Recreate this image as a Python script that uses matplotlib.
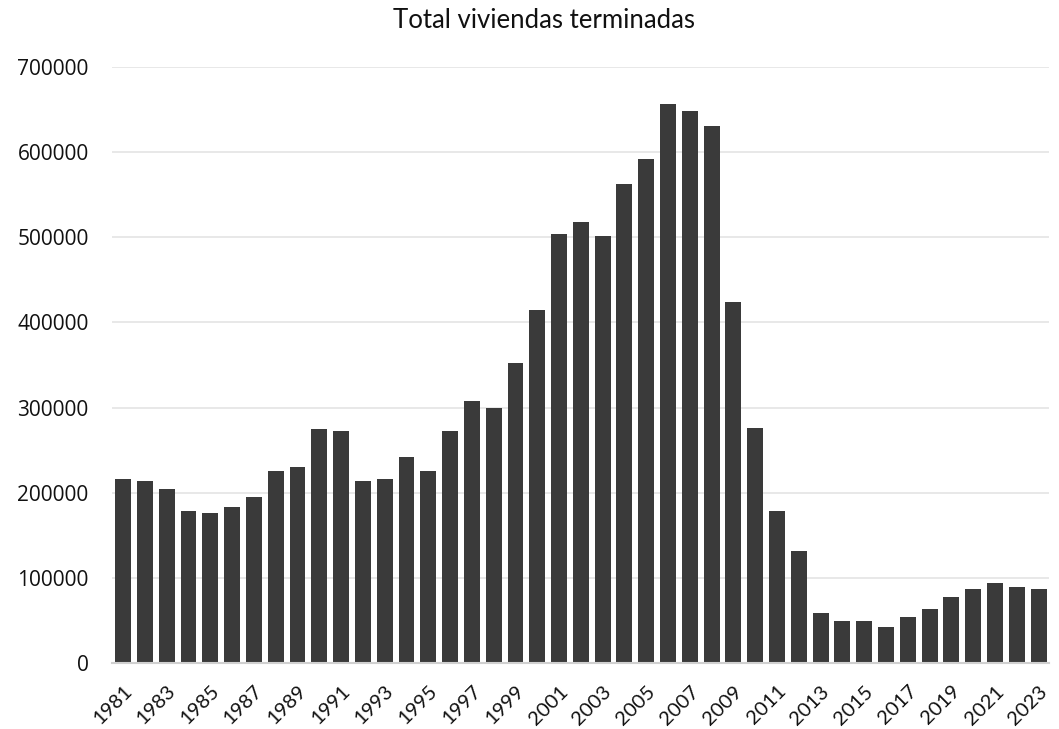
import matplotlib.pyplot as plt
import numpy as np

years = list(range(1981, 2024))
viviendas = [
    216000, 213500, 204000, 178500, 176000, 183000, 195000, 225500, 230000,
    274500, 272500, 213500, 216000, 241500, 225500, 272500, 307500, 300000,
    352000, 415000, 504500, 518500, 502000, 563000, 591500, 657000, 648000,
    631000, 424500, 276500, 178500, 131500, 59000, 49500, 49500, 42000,
    54000, 63500, 77500, 86500, 94000, 89000, 86500,
]
y_ticks = [0, 100000, 200000, 300000, 400000, 500000, 600000, 700000]

fig = plt.figure(figsize=(10.59, 7.29), dpi=100)
ax = fig.add_axes([0.106, 0.0905, 0.885, 0.8175])

x = np.arange(len(years))
ax.bar(x, viviendas, width=0.73, color='#3a3a3a', zorder=3)

ax.set_xlim(-0.5, len(years) - 0.5)
ax.set_ylim(0, 700000)
ax.set_yticks(y_ticks)
ax.set_yticklabels([str(v) for v in y_ticks], fontsize=15, family='Open Sans',
                   color='#111111')

ax.set_xticks(x[::2])
ax.set_xticklabels([str(y) for y in years[::2]], rotation=45, ha='right',
                   rotation_mode='anchor', fontsize=14.5, family='Lato',
                   color='#111111')

ax.grid(axis='y', color='#e4e4e4', linewidth=1.2, zorder=0)
ax.tick_params(axis='both', length=0)
ax.tick_params(axis='y', pad=17)
ax.tick_params(axis='x', pad=14)
for side in ['top', 'right', 'left']:
    ax.spines[side].set_visible(False)
ax.spines['bottom'].set_color('#d0d0d0')
ax.spines['bottom'].set_linewidth(1.5)
ax.spines['bottom'].set_zorder(4)

fig.text(0.514, 0.972, 'Total viviendas terminadas', ha='center', va='center',
         fontsize=18.5, family='Lato', color='#111111')

fig.savefig('out.png', dpi=100)
